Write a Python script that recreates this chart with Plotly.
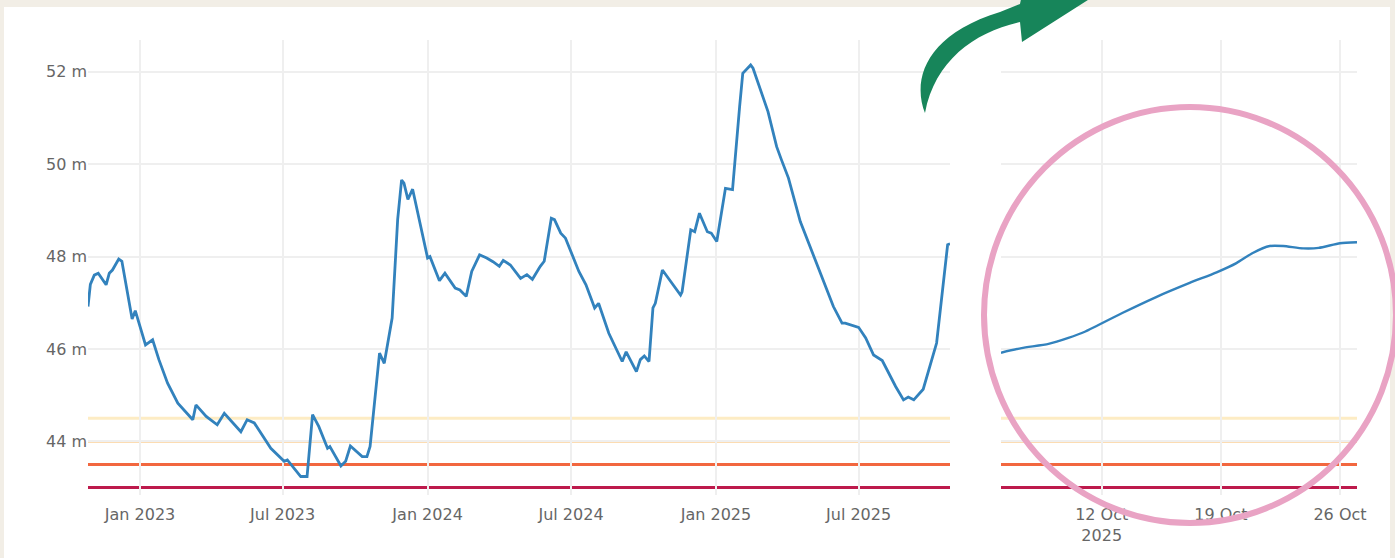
import plotly.graph_objects as go

# ---------------- data ----------------
left_dates = ["2022-10-27","2022-10-30","2022-11-04","2022-11-09","2022-11-19","2022-11-23","2022-11-27","2022-12-05","2022-12-09","2022-12-22",
              "2022-12-26","2022-12-31","2023-01-08","2023-01-17","2023-01-25","2023-02-05","2023-02-18","2023-03-09","2023-03-13","2023-03-26",
              "2023-04-09","2023-04-18","2023-05-09","2023-05-17","2023-05-26","2023-06-16","2023-07-03","2023-07-07","2023-07-24","2023-08-01",
              "2023-08-08","2023-08-16","2023-08-27","2023-08-30","2023-09-13","2023-09-19","2023-09-25","2023-10-10","2023-10-16","2023-10-20",
              "2023-10-25","2023-11-01","2023-11-07","2023-11-15","2023-11-17","2023-11-24","2023-11-29","2023-12-02","2023-12-07","2023-12-13",
              "2023-12-23","2024-01-01","2024-01-04","2024-01-16","2024-01-23","2024-02-05","2024-02-11","2024-02-19","2024-02-26","2024-03-07",
              "2024-03-16","2024-03-24","2024-04-01","2024-04-06","2024-04-15","2024-04-28","2024-05-06","2024-05-13","2024-05-23","2024-05-28",
              "2024-06-06","2024-06-10","2024-06-18","2024-06-24","2024-07-11","2024-07-20","2024-07-31","2024-08-05","2024-08-18","2024-09-04",
              "2024-09-09","2024-09-22","2024-09-27","2024-10-02","2024-10-08","2024-10-13","2024-10-16","2024-10-25","2024-11-17","2024-11-19",
              "2024-11-30","2024-12-05","2024-12-11","2024-12-21","2024-12-26","2025-01-02","2025-01-13","2025-01-22","2025-01-31","2025-02-04",
              "2025-02-14","2025-02-17","2025-03-08","2025-03-19","2025-03-25","2025-04-03","2025-04-18","2025-05-14","2025-05-30","2025-06-10",
              "2025-06-14","2025-07-01","2025-07-10","2025-07-20","2025-07-31","2025-08-17","2025-08-27","2025-09-02","2025-09-09","2025-09-21",
              "2025-09-29","2025-10-08","2025-10-22","2025-10-25"]
left_levels = [46.92,47.4,47.6,47.64,47.39,47.64,47.71,47.95,47.9,46.65,
               46.83,46.56,46.09,46.2,45.77,45.26,44.83,44.47,44.79,44.54,
               44.36,44.61,44.21,44.47,44.4,43.85,43.57,43.6,43.24,43.24,
               44.58,44.32,43.85,43.89,43.47,43.57,43.9,43.67,43.67,43.89,
               44.68,45.91,45.69,46.49,46.67,48.8,49.66,49.59,49.24,49.46,
               48.65,47.97,48.0,47.48,47.64,47.32,47.28,47.14,47.68,48.04,
               47.97,47.89,47.79,47.92,47.82,47.53,47.61,47.51,47.79,47.9,
               48.83,48.8,48.51,48.4,47.68,47.39,46.89,46.99,46.34,45.73,
               45.94,45.51,45.77,45.85,45.73,46.89,46.99,47.71,47.17,47.24,
               48.58,48.54,48.94,48.54,48.51,48.33,49.48,49.45,51.25,51.97,
               52.15,52.08,51.14,50.38,50.1,49.7,48.76,47.64,46.92,46.56,
               46.56,46.47,46.24,45.87,45.75,45.19,44.9,44.96,44.9,45.13,
               45.59,46.13,48.26,48.28]

right_times = ["2025-10-06 02:00","2025-10-07 07:00","2025-10-08 21:00","2025-10-10 01:00","2025-10-11 01:00",
               "2025-10-13 05:00","2025-10-15 04:00","2025-10-17 04:00","2025-10-18 18:00","2025-10-19 22:00",
               "2025-10-20 21:00","2025-10-21 21:00","2025-10-22 16:00","2025-10-23 20:00","2025-10-24 18:00",
               "2025-10-26 00:00","2025-10-27 00:00"]
right_levels = [45.92,46.02,46.11,46.24,46.38,46.78,47.12,47.43,47.66,47.86,48.08,48.23,48.23,48.18,48.19,48.29,48.31]

threshold_levels = [44.5, 44.0, 43.5, 43.0]
threshold_colors = ["#fdecc4", "#fcdcb2", "#f2673f", "#bd1a4c"]

y_ticks = [44, 46, 48, 50, 52]
y_ticktext = ["44 m", "46 m", "48 m", "50 m", "52 m"]
right_tickvals = ["2025-10-12", "2025-10-19", "2025-10-26"]
right_ticktext = ["12 Oct<br>2025", "19 Oct", "26 Oct"]

# ---------------- layout geometry ----------------
W, H = 1395, 558
ML, MR, MT, MB = 88, 38, 40, 63
PW, PH = W - ML - MR, H - MT - MB


def px(x, y):
    return (x - ML) / PW, 1 - (y - MT) / PH


def P(x, y):
    a, b = px(x, y)
    return f"{a:.5f},{b:.5f}"


LINE = "#3282bd"
GRID = "#efefef"
FONT = dict(family="DejaVu Sans, Verdana, sans-serif", size=16, color="#666666")

fig = go.Figure()
fig.add_trace(go.Scatter(x=left_dates, y=left_levels, mode="lines",
                         line=dict(color=LINE, width=2.8), xaxis="x", yaxis="y",
                         showlegend=False, hoverinfo="x+y"))
fig.add_trace(go.Scatter(x=right_times, y=right_levels, mode="lines",
                         line=dict(color=LINE, width=2.4, shape="spline", smoothing=0.6),
                         xaxis="x2", yaxis="y2", showlegend=False, hoverinfo="x+y"))

shapes = []
# background frame
x0, y0 = px(0, 0)
x1, y1 = px(W, H)
shapes.append(dict(type="rect", xref="paper", yref="paper", x0=x0, x1=x1, y0=y1, y1=y0,
                   fillcolor="#f2eee6", line=dict(width=0), layer="below"))
x0, y0 = px(4, 7)
x1, y1 = px(1390, H + 5)
shapes.append(dict(type="rect", xref="paper", yref="paper", x0=x0, x1=x1, y0=y1, y1=y0,
                   fillcolor="#ffffff", line=dict(width=0), layer="below"))

# threshold lines in both panels
for lvl, col in zip(threshold_levels, threshold_colors):
    for xr, yr in (("x domain", "y"), ("x2 domain", "y2")):
        shapes.append(dict(type="line", xref=xr, yref=yr, x0=0, x1=1, y0=lvl, y1=lvl,
                           line=dict(color=col, width=3), layer="below"))

# pink circle highlight
cx0, cy0 = px(984, 107)
cx1, cy1 = px(1396, 523)
shapes.append(dict(type="circle", xref="paper", yref="paper", x0=cx0, x1=cx1, y0=cy1, y1=cy0,
                   line=dict(color="#e9a3c4", width=6), layer="above"))

# green curved arrow
path = (f"M {P(925,113)} C {P(912,80)} {P(925,35)} {P(1000,12)} "
        f"L {P(1020,4)} L {P(1025,-20)} L {P(1135,-30)} L {P(1022,42)} L {P(1020,22)} "
        f"C {P(975,32)} {P(935,60)} {P(925,113)} Z")
shapes.append(dict(type="path", xref="paper", yref="paper", path=path,
                   fillcolor="#17855a", line=dict(width=0), layer="above"))

fig.update_layout(
    width=W, height=H,
    margin=dict(l=ML, r=MR, t=MT, b=MB, pad=0),
    paper_bgcolor="#ffffff", plot_bgcolor="rgba(0,0,0,0)",
    font=FONT,
    showlegend=False,
    shapes=shapes,
    xaxis=dict(domain=[0, (950 - ML) / PW], type="date", tick0="2023-01-01", dtick="M6",
               tickformat="%b %Y", showgrid=True, gridcolor=GRID, gridwidth=1.5,
               zeroline=False, showline=False, ticks="", tickfont=FONT, ticklabelstandoff=8),
    xaxis2=dict(domain=[(1001 - ML) / PW, 1], type="date", tickvals=right_tickvals,
                ticktext=right_ticktext, showgrid=True, gridcolor=GRID, gridwidth=1.5,
                zeroline=False, showline=False, ticks="", tickfont=FONT, anchor="y2",
                ticklabelstandoff=8),
    yaxis=dict(range=[42.84, 52.69], tickvals=y_ticks, ticktext=y_ticktext, showgrid=True,
               gridcolor=GRID, gridwidth=1.5, zeroline=False, showline=False, tickfont=FONT),
    yaxis2=dict(range=[42.84, 52.69], tickvals=y_ticks, showticklabels=False, showgrid=True,
                gridcolor=GRID, gridwidth=1.5, zeroline=False, showline=False, anchor="x2",
                matches="y"),
)

fig.write_html("out.html", config={"displayModeBar": False},
               post_script="document.body.style.margin='0';document.body.style.overflow='hidden';")
